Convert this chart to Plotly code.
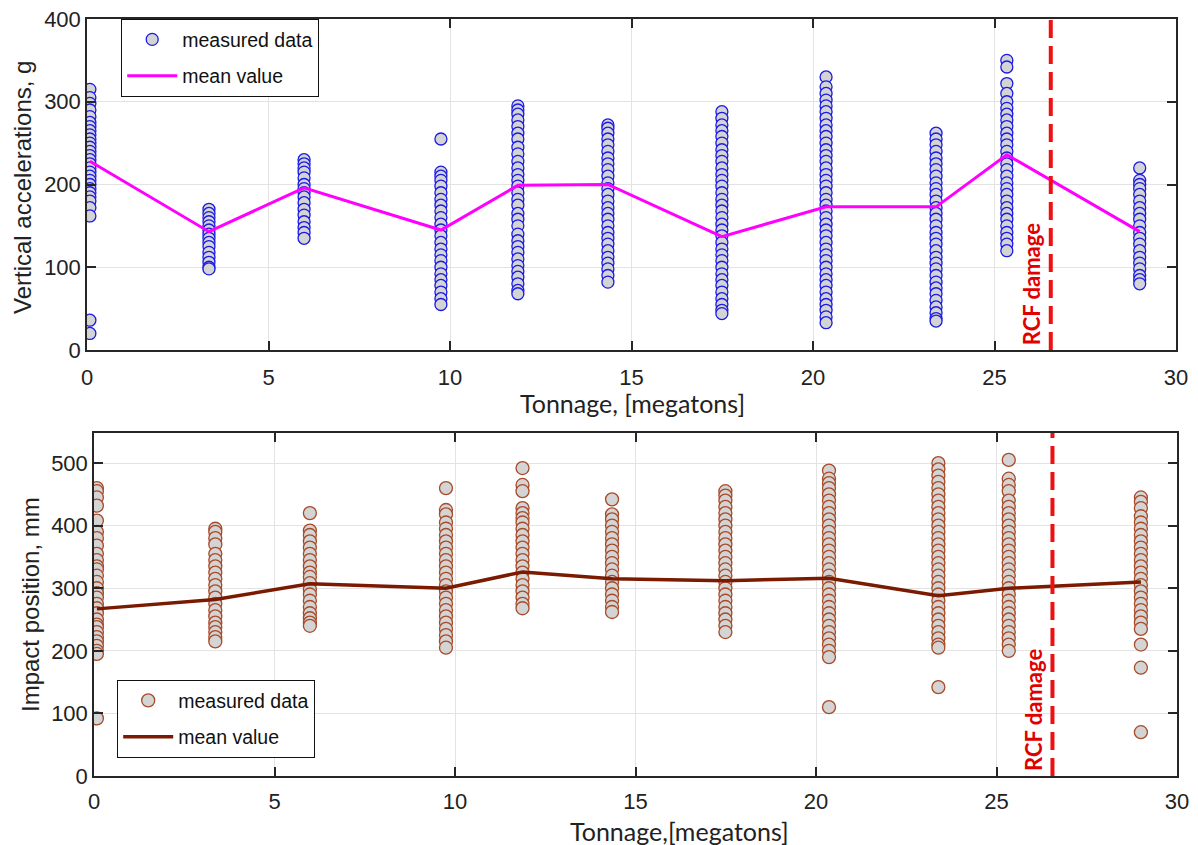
import plotly.graph_objects as go

# ---------------- data ----------------
tonnage = [0.08, 3.36, 5.98, 9.75, 11.87, 14.35, 17.49, 20.36, 23.39, 25.34, 29.0]
rcf_x = 26.55

acc_groups = [
    [315, 305, 298, 290, 282, 275, 270, 265, 260, 255, 250, 245, 240, 235, 230, 225, 220, 215, 210, 205, 200, 195, 190, 185, 180, 172, 162, 36, 20],
    [170, 165, 160, 155, 150, 145, 140, 135, 130, 125, 118, 112, 106, 100, 98],
    [230, 225, 220, 215, 208, 200, 195, 190, 185, 178, 170, 163, 155, 148, 142, 135],
    [255, 215, 210, 205, 198, 190, 182, 175, 168, 160, 152, 145, 138, 130, 122, 115, 108, 100, 92, 85, 78, 70, 62, 55],
    [295, 290, 285, 278, 270, 262, 255, 245, 237, 228, 220, 212, 205, 198, 190, 182, 175, 165, 158, 150, 140, 132, 125, 118, 110, 102, 95, 88, 80, 72, 68],
    [272, 268, 262, 255, 248, 240, 232, 225, 218, 210, 202, 195, 188, 180, 172, 165, 158, 150, 142, 135, 128, 120, 112, 105, 98, 90, 82],
    [288, 280, 272, 265, 258, 250, 242, 235, 228, 220, 212, 205, 198, 190, 182, 175, 168, 160, 152, 145, 138, 130, 122, 115, 108, 100, 92, 85, 78, 70, 62, 55, 48, 44],
    [330, 318, 310, 302, 295, 288, 280, 272, 265, 258, 250, 242, 235, 228, 220, 212, 205, 198, 190, 182, 175, 168, 160, 152, 145, 138, 130, 122, 115, 108, 100, 92, 85, 78, 70, 62, 55, 48, 40, 33],
    [262, 255, 248, 240, 232, 225, 218, 210, 202, 195, 188, 180, 172, 165, 158, 150, 142, 135, 128, 120, 112, 105, 98, 90, 82, 75, 68, 60, 52, 45, 38, 35],
    [350, 342, 322, 310, 300, 292, 285, 278, 270, 262, 255, 248, 240, 232, 225, 218, 210, 202, 195, 188, 180, 172, 165, 158, 150, 142, 135, 128, 120],
    [220, 205, 200, 195, 188, 180, 172, 165, 158, 150, 142, 135, 128, 120, 112, 105, 98, 90, 85, 80],
]
acc_mean = [228, 143, 196, 145, 199, 200, 137, 173, 173, 236, 143]

pos_groups = [
    [460, 455, 445, 432, 408, 390, 380, 368, 355, 345, 335, 330, 320, 310, 300, 292, 285, 275, 268, 260, 250, 242, 238, 230, 222, 215, 208, 200, 195, 92],
    [395, 390, 380, 370, 355, 345, 335, 325, 315, 305, 295, 285, 275, 265, 255, 245, 238, 230, 222, 215],
    [420, 392, 385, 375, 365, 355, 345, 335, 325, 318, 308, 298, 290, 280, 270, 260, 252, 245, 240],
    [460, 425, 418, 405, 395, 385, 375, 365, 355, 345, 335, 325, 315, 305, 295, 285, 275, 265, 255, 245, 235, 225, 215, 205],
    [492, 465, 455, 428, 420, 412, 405, 395, 385, 375, 365, 355, 345, 335, 325, 315, 305, 295, 285, 275, 268],
    [442, 418, 410, 400, 390, 380, 370, 360, 350, 340, 330, 320, 310, 300, 290, 280, 270, 262],
    [455, 448, 440, 430, 420, 410, 400, 390, 380, 370, 360, 350, 340, 330, 320, 310, 300, 290, 280, 270, 260, 250, 240, 230],
    [488, 475, 468, 460, 450, 440, 430, 420, 410, 400, 390, 380, 370, 360, 350, 340, 330, 320, 310, 300, 290, 280, 270, 260, 250, 240, 230, 220, 210, 200, 190, 110],
    [500, 490, 480, 470, 460, 450, 440, 430, 420, 410, 400, 390, 380, 370, 360, 350, 340, 330, 320, 310, 300, 290, 280, 270, 260, 250, 240, 230, 220, 210, 205, 142],
    [505, 475, 465, 455, 440, 430, 420, 410, 400, 390, 380, 370, 360, 350, 340, 330, 320, 310, 300, 290, 280, 270, 260, 250, 240, 230, 220, 210, 200],
    [445, 438, 428, 415, 405, 395, 385, 375, 365, 355, 345, 335, 325, 315, 305, 295, 285, 275, 265, 255, 245, 235, 210, 173, 70],
]
pos_mean = [267, 282, 307, 300, 326, 315, 312, 316, 288, 300, 310]

x_ticks = [0, 5, 10, 15, 20, 25, 30]
acc_ticks = [0, 100, 200, 300, 400]
pos_ticks = [0, 100, 200, 300, 400, 500]

# ---------------- figure ----------------
W, H = 1198, 845
FONT = "Liberation Sans, Arial, sans-serif"
CAL = "Lato, Open Sans, sans-serif"

def flat(groups):
    xs, ys = [], []
    for xv, g in zip(tonnage, groups):
        for v in g:
            xs.append(xv)
            ys.append(v)
    return xs, ys

fig = go.Figure()

ax, ay = flat(acc_groups)
fig.add_trace(go.Scatter(x=ax, y=ay, mode="markers", name="measured data",
                         marker=dict(size=12, color="#d4d4d4", line=dict(color="#1a1ae6", width=1.3)),
                         xaxis="x", yaxis="y", legend="legend", legendgroup="a1"))
fig.add_trace(go.Scatter(x=tonnage, y=acc_mean, mode="lines", name="mean value",
                         line=dict(color="#ff00ff", width=3),
                         xaxis="x", yaxis="y", legend="legend", legendgroup="a2"))

px_, py_ = flat(pos_groups)
fig.add_trace(go.Scatter(x=px_, y=py_, mode="markers", name="measured data",
                         marker=dict(size=13, color="#d4d4d4", line=dict(color="#a84a28", width=1.3)),
                         xaxis="x2", yaxis="y2", legend="legend2", legendgroup="b1"))
fig.add_trace(go.Scatter(x=tonnage, y=pos_mean, mode="lines", name="mean value",
                         line=dict(color="#7a1a00", width=3.5),
                         xaxis="x2", yaxis="y2", legend="legend2", legendgroup="b2"))

def pxd(a, b, total):
    return [a / total, b / total]

axis_common = dict(
    showline=True, linecolor="#262626", linewidth=1.5, mirror="ticks",
    ticks="inside", ticklen=9, tickwidth=1.5, tickcolor="#262626",
    showgrid=True, gridcolor="#e3e3e3", gridwidth=1,
    zeroline=False, automargin=False,
    tickfont=dict(family=FONT, size=22, color="#222222"),
)

legend_common = dict(xanchor="left", yanchor="top",
                     bgcolor="white", bordercolor="#111111", borderwidth=1.2,
                     font=dict(family=FONT, size=19.5, color="#111111"),
                     itemwidth=50, tracegroupgap=8)

fig.update_layout(
    width=W, height=H,
    margin=dict(l=0, r=0, t=0, b=0, autoexpand=False),
    paper_bgcolor="white", plot_bgcolor="white",
    showlegend=True,
    xaxis=dict(domain=pxd(87, 1176, W), range=[0, 30], tickvals=x_ticks, anchor="y",
               ticklabelstandoff=7, **axis_common),
    yaxis=dict(domain=[1 - 350 / H, 1 - 19 / H], range=[0, 400], tickvals=acc_ticks, anchor="x", **axis_common),
    xaxis2=dict(domain=pxd(94, 1177, W), range=[0, 30], tickvals=x_ticks, anchor="y2",
                ticklabelstandoff=5, **axis_common),
    yaxis2=dict(domain=[1 - 776 / H, 1 - 433 / H], range=[0, 548], tickvals=pos_ticks, anchor="x2", **axis_common),
    legend=dict(x=121 / W, y=1 - 19 / H, **legend_common),
    legend2=dict(x=117 / W, y=1 - 680 / H, **legend_common),
)

# RCF damage lines
for xr, yr in (("x", "y domain"), ("x2", "y2 domain")):
    fig.add_shape(type="line", xref=xr, yref=yr, x0=rcf_x, x1=rcf_x, y0=0, y1=1,
                  line=dict(color="#ee1111", width=4, dash="18px,8px"))

for xr, yr in (("x", "y"), ("x2", "y2")):
    fig.add_annotation(x=rcf_x, y=0, xref=xr, yref=yr, text="<b>RCF damage</b>",
                       textangle=-90, showarrow=False, xanchor="right", yanchor="bottom",
                       xshift=-4, yshift=3,
                       font=dict(family=CAL, size=22, color="#e00000"))

# axis titles
title_font = dict(family=FONT, size=24, color="#222222")
fig.add_annotation(x=632 / W, y=1 - 403 / H, xref="paper", yref="paper", text="Tonnage, [megatons]",
                   showarrow=False, xanchor="center", yanchor="middle",
                   font=dict(family=CAL, size=25, color="#222222"))
fig.add_annotation(x=680 / W, y=1 - 831 / H, xref="paper", yref="paper", text="Tonnage,[megatons]",
                   showarrow=False, xanchor="center", yanchor="middle",
                   font=dict(family=CAL, size=25, color="#222222"))
fig.add_annotation(x=22 / W, y=1 - 188 / H, xref="paper", yref="paper", text="Vertical accelerations, g",
                   showarrow=False, textangle=-90, xanchor="center", yanchor="middle", font=title_font)
fig.add_annotation(x=30 / W, y=1 - 605 / H, xref="paper", yref="paper", text="Impact position, mm",
                   showarrow=False, textangle=-90, xanchor="center", yanchor="middle", font=title_font)

fig.write_html("out.html")
